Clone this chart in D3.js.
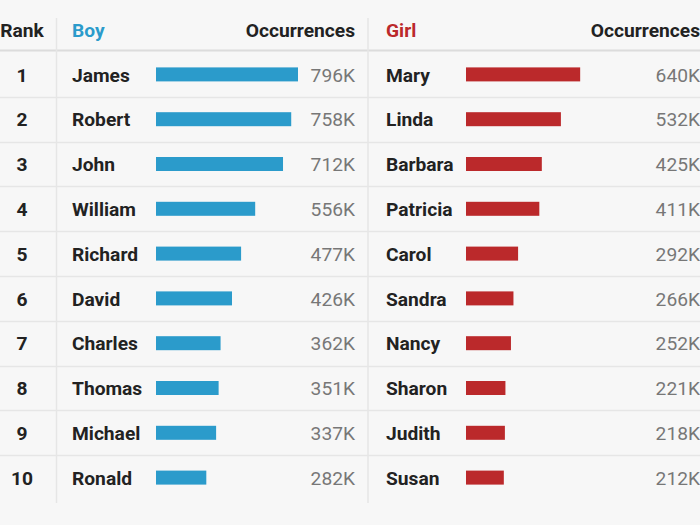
<!DOCTYPE html>
<html><head><meta charset="utf-8">
<script src="https://cdn.jsdelivr.net/npm/d3@7"></script>
<style>
html,body{margin:0;padding:0;background:#f7f7f7;}
svg{display:block;font-family:Roboto,"Noto Sans",sans-serif;}
</style></head>
<body><svg id="c" width="700" height="525"></svg>
<script>
const ranks = [1,2,3,4,5,6,7,8,9,10];
const boyNames = ["James","Robert","John","William","Richard","David","Charles","Thomas","Michael","Ronald"];
const boyValues = [796,758,712,556,477,426,362,351,337,282];
const girlNames = ["Mary","Linda","Barbara","Patricia","Carol","Sandra","Nancy","Sharon","Judith","Susan"];
const girlValues = [640,532,425,411,292,266,252,221,218,212];

const svg = d3.select("#c");
const W = 700, H = 525;
const FS = 19.2;
svg.append("rect").attr("width",W).attr("height",H).attr("fill","#f7f7f7");

const y = d3.scaleBand().domain(ranks).range([52,500]);
const x = d3.scaleLinear().domain([0,796]).range([0,142]);

const boyColor = "#2b9bcb", girlColor = "#bb292b";

// row separators
svg.append("g").selectAll("line").data(ranks.slice(0,-1)).join("line")
  .attr("x1",0).attr("x2",W)
  .attr("y1",d=>Math.round(y(d)+y.bandwidth())+0.5)
  .attr("y2",d=>Math.round(y(d)+y.bandwidth())+0.5)
  .attr("stroke","#e6e6e6").attr("stroke-width",1.5);

// header separator
svg.append("line").attr("x1",0).attr("x2",W).attr("y1",50.5).attr("y2",50.5)
  .attr("stroke","#dcdcdc").attr("stroke-width",2);

// vertical lines
[56.5,368].forEach(vx=>{
  svg.append("line").attr("x1",vx).attr("x2",vx).attr("y1",18).attr("y2",503)
    .attr("stroke","#e6e6e6").attr("stroke-width",1.5);
});

// headers
const hy = 37;
const hdr = svg.append("g").attr("font-size",FS).attr("font-weight",700);
hdr.append("text").attr("x",22).attr("y",hy).attr("text-anchor","middle").attr("fill","#222").text("Rank");
hdr.append("text").attr("x",72).attr("y",hy).attr("fill",boyColor).text("Boy");
hdr.append("text").attr("x",355).attr("y",hy).attr("text-anchor","end").attr("fill","#222").text("Occurrences");
hdr.append("text").attr("x",386).attr("y",hy).attr("fill",girlColor).text("Girl");
hdr.append("text").attr("x",700).attr("y",hy).attr("text-anchor","end").attr("fill","#222").text("Occurrences");

const fmt = v => v + "K";

// rank
svg.append("g").selectAll("text").data(ranks).join("text")
  .attr("x",22).attr("y",d=>y(d)+y.bandwidth()/2).attr("dy","0.38em")
  .attr("text-anchor","middle").attr("font-size",FS).attr("font-weight",700).attr("fill","#222")
  .text(d=>d);

function side(names, values, nameX, barX, valX, color){
  const g = svg.append("g");
  g.selectAll("text.n").data(names).join("text").attr("class","n")
    .attr("x",nameX).attr("y",(d,i)=>y(ranks[i])+y.bandwidth()/2).attr("dy","0.38em")
    .attr("font-size",FS).attr("font-weight",700).attr("fill","#222").text(d=>d);
  g.selectAll("rect").data(values).join("rect")
    .attr("x",barX).attr("y",(d,i)=>y(ranks[i])+y.bandwidth()/2-7)
    .attr("width",d=>x(d)).attr("height",14).attr("fill",color);
  g.selectAll("text.v").data(values).join("text").attr("class","v")
    .attr("x",valX).attr("y",(d,i)=>y(ranks[i])+y.bandwidth()/2).attr("dy","0.38em")
    .attr("text-anchor","end").attr("font-size",FS).attr("fill","#777").text(fmt);
}
side(boyNames, boyValues, 72, 156, 355, boyColor);
side(girlNames, girlValues, 386, 466, 700, girlColor);
</script></body></html>
